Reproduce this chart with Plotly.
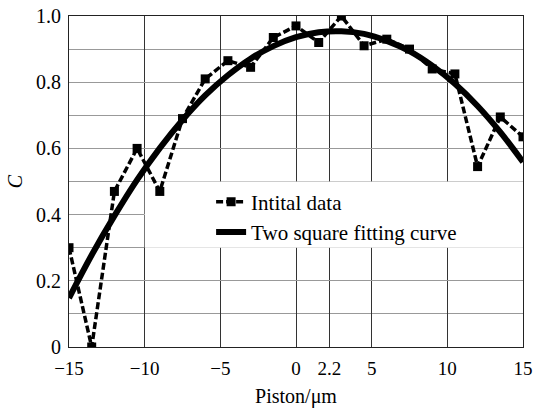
import plotly.graph_objects as go

# Initial data
piston = [-15, -13.5, -12, -10.5, -9, -7.5, -6, -4.5, -3, -1.5, 0,
          1.5, 3, 4.5, 6, 7.5, 9, 10.5, 12, 13.5, 15]
c_data = [0.30, 0.0, 0.47, 0.60, 0.47, 0.69, 0.81, 0.865, 0.845, 0.935, 0.97,
          0.92, 1.0, 0.91, 0.93, 0.90, 0.84, 0.825, 0.545, 0.695, 0.635]

# Two square fitting curve
fit_x = [-15, -13.5, -12, -10.5, -9, -7.5, -6, -4.5, -3, -1.5, 0,
         1.5, 3, 4.5, 6, 7.5, 9, 10.5, 12, 13.5, 15]
fit_c = [0.148, 0.278, 0.396, 0.505, 0.601, 0.686, 0.760, 0.821, 0.871, 0.909, 0.936,
         0.951, 0.954, 0.946, 0.925, 0.894, 0.850, 0.795, 0.728, 0.649, 0.559]

x_ticks = [-15, -10, -5, 0, 2.2, 5, 10, 15]
x_tick_text = ["\u221215", "\u221210", "\u22125", "0", "2.2", "5", "10", "15"]
y_ticks = [0, 0.2, 0.4, 0.6, 0.8, 1.0]
y_tick_text = ["0", "0.2", "0.4", "0.6", "0.8", "1.0"]

FONT = "Liberation Serif, Times New Roman, serif"

fig = go.Figure()
fig.add_trace(go.Scatter(
    x=piston, y=c_data, mode="lines+markers", name="Intital data",
    line=dict(color="black", width=3.5, dash="7px,3px"),
    marker=dict(symbol="square", size=9, color="black"),
))
fig.add_trace(go.Scatter(
    x=fit_x, y=fit_c, mode="lines", name="Two square fitting curve",
    line=dict(color="black", width=6, shape="spline"),
))

# white legend panel covering the grid
fig.add_shape(type="rect", xref="x", yref="y", x0=-10, x1=15, y0=0.3, y1=0.5,
              fillcolor="white", line=dict(width=0), layer="between")

fig.update_layout(
    width=553, height=409,
    margin=dict(l=69, r=30, t=16, b=62),
    paper_bgcolor="white", plot_bgcolor="white",
    font=dict(family=FONT, color="black", size=20),
    showlegend=True,
    legend=dict(x=0.313, y=0.50, xanchor="left", yanchor="top",
                bgcolor="rgba(0,0,0,0)", font=dict(size=21, family=FONT),
                tracegroupgap=0, itemwidth=30),
)
fig.update_xaxes(
    range=[-15, 15], tickmode="array", tickvals=x_ticks, ticktext=x_tick_text,
    showgrid=True, gridcolor="#333333", gridwidth=1, zeroline=False,
    showline=True, linecolor="#222222", linewidth=1, mirror=True,
    ticks="", ticklabelstandoff=4, tickfont=dict(size=19, family=FONT),
    title=dict(text="Piston/\u03bcm", font=dict(size=20, family=FONT), standoff=11),
    automargin=False,
)
fig.update_yaxes(
    range=[0, 1.0], tickmode="array", tickvals=y_ticks, ticktext=y_tick_text,
    showgrid=True, gridcolor="#999999", gridwidth=1, zeroline=False,
    minor=dict(dtick=0.1, showgrid=True, gridcolor="#999999", gridwidth=1),
    showline=True, linecolor="#222222", linewidth=1, mirror=True,
    ticks="", ticklabelstandoff=3, tickfont=dict(size=20, family=FONT),
    title=dict(text="<i>C</i>", font=dict(size=20, family=FONT), standoff=8),
    automargin=False,
)

fig.write_html("out.html")
